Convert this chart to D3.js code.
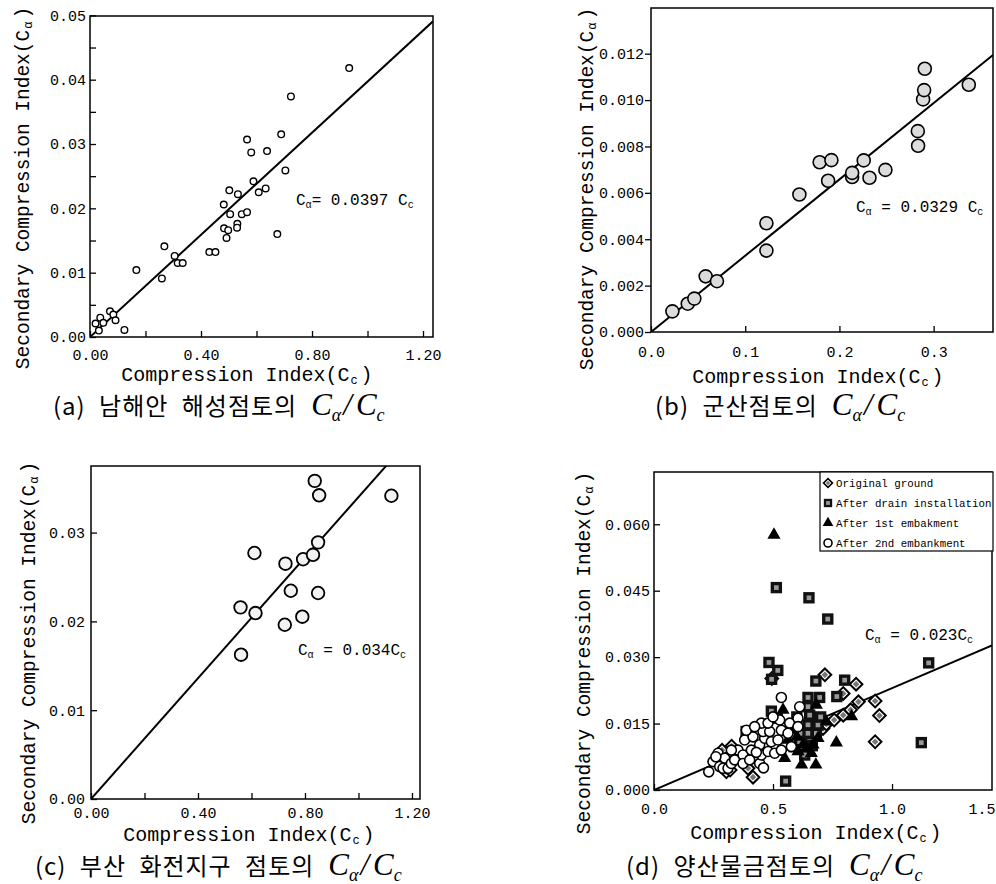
<!DOCTYPE html>
<html>
<head>
<meta charset="utf-8">
<script src="https://cdn.jsdelivr.net/npm/d3@7"></script>
<style>
body { margin: 0; background: #fff; }
text { font-family: "Liberation Mono", "DejaVu Sans Mono", monospace; fill: #000; }
.cap { font-family: "Noto Sans CJK KR", sans-serif; font-size: 24px; letter-spacing: 1px; word-spacing: 7px; }
.math { font-family: "Liberation Serif", serif; font-style: italic; }
</style>
</head>
<body>
<svg id="fig" width="996" height="884"></svg>
<script>
// (a) 남해안 해성점토
var aCc = [0.934, 0.724, 0.566, 0.581, 0.638, 0.689, 0.704, 0.589, 0.608, 0.633, 0.502, 0.533, 0.482,
           0.505, 0.547, 0.566, 0.483, 0.498, 0.492, 0.531, 0.530, 0.675, 0.430, 0.452, 0.268, 0.259,
           0.167, 0.305, 0.316, 0.334, 0.072, 0.084, 0.092, 0.037, 0.020, 0.048, 0.032, 0.124];
var aCa = [0.0418, 0.0374, 0.0307, 0.0287, 0.0289, 0.0315, 0.0259, 0.0242, 0.0225, 0.0231, 0.0228, 0.0222, 0.0206,
           0.0191, 0.0191, 0.0194, 0.0169, 0.0166, 0.0154, 0.0176, 0.0170, 0.0160, 0.0132, 0.0132, 0.0141, 0.0091,
           0.0104, 0.0126, 0.0115, 0.0115, 0.0040, 0.0035, 0.0026, 0.0030, 0.0021, 0.0022, 0.0010, 0.0011];
var aSlope = 0.0397;
var aXTicks = [0, 0.2, 0.4, 0.6, 0.8, 1.0, 1.2];
var aXLabels = ["0.00", "", "0.40", "", "0.80", "", "1.20"];
var aYTicks = [0, 0.005, 0.01, 0.015, 0.02, 0.025, 0.03, 0.035, 0.04, 0.045, 0.05];
var aYLabels = ["0.00", "", "0.01", "", "0.02", "", "0.03", "", "0.04", "", "0.05"];

// (b) 군산점토
var bCc = [0.0227, 0.039, 0.046, 0.058, 0.070, 0.1225, 0.1225, 0.1575, 0.179, 0.1915, 0.188,
           0.2135, 0.2135, 0.2258, 0.2319, 0.2488, 0.2832, 0.2835, 0.2888, 0.2899, 0.2906, 0.3373];
var bCa = [0.00089, 0.00122, 0.00144, 0.0024, 0.00219, 0.00469, 0.00351, 0.00593, 0.00732, 0.00741, 0.00652,
           0.00668, 0.00686, 0.0074, 0.00665, 0.00699, 0.00866, 0.00803, 0.01003, 0.01043, 0.01135, 0.01066];
var bSlope = 0.0329;
var bXTicks = [0, 0.1, 0.2, 0.3];
var bXLabels = ["0.0", "0.1", "0.2", "0.3"];
var bYTicks = [0, 0.002, 0.004, 0.006, 0.008, 0.010, 0.012];
var bYLabels = ["0.000", "0.002", "0.004", "0.006", "0.008", "0.010", "0.012"];

// (c) 부산 화전지구 점토
var cCc = [0.8365, 0.853, 1.123, 0.849, 0.611, 0.793, 0.830, 0.727, 0.747, 0.849, 0.559, 0.615, 0.790, 0.7245, 0.561];
var cCa = [0.03583, 0.0342, 0.03415, 0.0289, 0.0277, 0.0270, 0.0275, 0.0265, 0.02345, 0.0232, 0.02158, 0.02094, 0.02053, 0.01962, 0.01625];
var cSlope = 0.034;
var cXTicks = [0, 0.2, 0.4, 0.6, 0.8, 1.0, 1.2];
var cXLabels = ["0.00", "", "0.40", "", "0.80", "", "1.20"];
var cYTicks = [0, 0.01, 0.02, 0.03];
var cYLabels = ["0.00", "0.01", "0.02", "0.03"];

// (d) 양산물금점토
var dOrigCc = [0.286, 0.326, 0.304, 0.395, 0.416, 0.682, 0.710, 0.724, 0.757, 0.795, 0.826, 0.859, 0.929,
               0.947, 0.929, 0.795, 0.849, 0.718, 0.495, 0.640, 0.660, 0.320];
var dOrigCa = [0.0090, 0.0099, 0.0041, 0.0049, 0.0029, 0.0151, 0.0139, 0.0149, 0.0158, 0.0169, 0.0181, 0.0199, 0.0201,
               0.0168, 0.0109, 0.0218, 0.0239, 0.0260, 0.0252, 0.0120, 0.0135, 0.0045];
var dDrainCc = [0.514, 0.651, 0.730, 1.154, 0.483, 0.520, 0.494, 0.680, 0.801, 0.768, 0.696, 0.647, 0.647, 0.654,
                0.493, 0.518, 0.387, 0.619, 0.647, 0.647, 0.654, 0.682, 0.647, 0.633, 0.689, 0.612, 1.123, 0.553,
                0.600, 0.700, 0.665];
var dDrainCa = [0.0457, 0.0434, 0.0386, 0.0287, 0.0288, 0.0270, 0.0250, 0.0246, 0.0248, 0.0211, 0.0209, 0.0209, 0.0188, 0.0169,
                0.0178, 0.0162, 0.0132, 0.0128, 0.0147, 0.0128, 0.0109, 0.0128, 0.0098, 0.0079, 0.0147, 0.0109, 0.0107, 0.0020,
                0.0165, 0.0165, 0.0100];
var d1stCc = [0.504, 0.542, 0.549, 0.577, 0.563, 0.591, 0.605, 0.626, 0.668, 0.661, 0.689, 0.682, 0.724, 0.766,
              0.830, 0.620, 0.680, 0.305, 0.600, 0.640];
var d1stCa = [0.0576, 0.0181, 0.0072, 0.0135, 0.0113, 0.0094, 0.0087, 0.0102, 0.0102, 0.0083, 0.0117, 0.0192, 0.0154, 0.0107,
              0.0166, 0.0057, 0.0057, 0.0049, 0.0120, 0.0095];
var d2ndCc = [0.230, 0.248, 0.269, 0.276, 0.290, 0.311, 0.297, 0.325, 0.339, 0.353, 0.374, 0.374, 0.402, 0.409, 0.381,
              0.416, 0.444, 0.451, 0.444, 0.465, 0.458, 0.451, 0.486, 0.493, 0.479, 0.507, 0.521, 0.535, 0.528, 0.563,
              0.570, 0.577, 0.535, 0.612, 0.605, 0.605, 0.535, 0.388, 0.423, 0.479, 0.325, 0.260, 0.430, 0.500, 0.460];
var d2ndCa = [0.0041, 0.0064, 0.0083, 0.0053, 0.0049, 0.0049, 0.0072, 0.0060, 0.0068, 0.0090, 0.0079, 0.0060, 0.0068, 0.0090, 0.0113,
              0.0120, 0.0060, 0.0079, 0.0102, 0.0117, 0.0132, 0.0151, 0.0132, 0.0109, 0.0087, 0.0083, 0.0113, 0.0135, 0.0158, 0.0128,
              0.0151, 0.0098, 0.0090, 0.0188, 0.0162, 0.0143, 0.0209, 0.0135, 0.0143, 0.0151, 0.0090, 0.0075, 0.0085, 0.0165, 0.0050];
var dSlope = 0.023;
var dXTicks = [0, 0.5, 1.0, 1.5];
var dXLabels = ["0.0", "0.5", "1.0", "1.5"];
var dYTicks = [0, 0.015, 0.030, 0.045, 0.060];
var dYLabels = ["0.000", "0.015", "0.030", "0.045", "0.060"];
var dLegend = ["Original ground", "After drain installation", "After 1st embakment", "After 2nd embankment"];

var svg = d3.select("#fig");

// text with small lowered subscripts, parts = [[string, isSub, dx], ...]
function subText(sel, parts, size, subSize) {
  var t = sel.append("text").style("font-size", size + "px");
  var shift = 0;
  parts.forEach(function(p) {
    var ts = t.append("tspan").text(p[0]);
    if (p[2]) ts.attr("dx", p[2]);
    if (p[1]) {
      ts.attr("dy", 3).style("font-size", subSize + "px");
      shift = 3;
    } else if (shift) {
      ts.attr("dy", -shift);
      shift = 0;
    }
  });
  return t;
}

function panel(o) {
  var x = d3.scaleLinear().domain(o.xDom).range([o.left, o.right]);
  var y = d3.scaleLinear().domain(o.yDom).range([o.bottom, o.top]);
  var g = svg.append("g");

  g.append("clipPath").attr("id", "clip" + o.id)
    .append("rect")
    .attr("x", o.left).attr("y", o.top)
    .attr("width", o.right - o.left).attr("height", o.bottom - o.top);

  var xAxis = d3.axisBottom(x)
    .tickValues(o.xTicks)
    .tickFormat(function(d, i) { return o.xLabels[i]; })
    .tickSizeInner(-6).tickSizeOuter(0).tickPadding(o.xPad);
  var gx = g.append("g")
    .attr("transform", "translate(0," + o.bottom + ")")
    .call(xAxis);
  gx.select(".domain").remove();
  gx.selectAll("text").style("font-size", "15px").style("font-family", null);
  gx.selectAll(".tick").filter(function(d) { return x(d) > o.right + 1; }).select("line").remove();

  var yAxis = d3.axisLeft(y)
    .tickValues(o.yTicks)
    .tickFormat(function(d, i) { return o.yLabels[i]; })
    .tickSizeInner(o.yTickIn ? -6 : 6).tickSizeOuter(0).tickPadding(o.yPad);
  var gy = g.append("g")
    .attr("transform", "translate(" + o.left + ",0)")
    .call(yAxis);
  gy.select(".domain").remove();
  gy.selectAll("text").style("font-size", "15px").style("font-family", null);
  g.selectAll(".tick line").attr("stroke", "#000").attr("stroke-width", 1.3);

  // regression line
  var xEnd = o.xDom[1];
  g.append("line")
    .attr("clip-path", "url(#clip" + o.id + ")")
    .attr("x1", x(0)).attr("y1", y(0))
    .attr("x2", x(xEnd)).attr("y2", y(o.slope * xEnd))
    .attr("stroke", "#000").attr("stroke-width", 2);

  g.append("rect")
    .attr("x", o.left).attr("y", o.top)
    .attr("width", o.right - o.left).attr("height", o.bottom - o.top)
    .attr("fill", "none").attr("stroke", "#000").attr("stroke-width", 1.5);

  // axis titles
  var xt = subText(g, [["Compression Index(C"], ["c", true, 1], [")", false, 3]], 20, 12);
  xt.attr("x", o.xTitle[0]).attr("y", o.xTitle[1]).attr("text-anchor", "middle");
  var yt = subText(g, [["Secondary Compression Index(C"], ["\u03b1", true, 1], [")", false, 3]], 19.5, 12);
  yt.attr("text-anchor", "middle")
    .attr("transform", "translate(" + o.yTitle[0] + "," + o.yTitle[1] + ") rotate(-90)");

  // equation
  var eq = subText(g, [["C"], ["\u03b1", true], [o.eq], ["c", true]], 16, 10);
  eq.attr("x", o.eqPos[0]).attr("y", o.eqPos[1]);

  // caption
  var cap = g.append("text").attr("x", o.cap[0]).attr("y", o.cap[1]);
  cap.append("tspan").attr("class", "cap").text(o.capText);
  cap.append("tspan").attr("class", "math").attr("dx", 14).style("font-size", "31px").text("C");
  cap.append("tspan").attr("class", "math").attr("dy", 6).style("font-size", "18px").text("\u03b1");
  cap.append("tspan").attr("class", "math").attr("dy", -6).attr("dx", 2).style("font-size", "31px").text("/");
  cap.append("tspan").attr("class", "math").attr("dx", 4).style("font-size", "31px").text("C");
  cap.append("tspan").attr("class", "math").attr("dy", 6).style("font-size", "18px").text("c");

  return { g: g, x: x, y: y };
}

function circles(p, cc, ca, r, fill, sw) {
  p.g.append("g").selectAll("circle")
    .data(cc)
    .enter()
    .append("circle")
    .attr("cx", function(d) { return p.x(d); })
    .attr("cy", function(d, i) { return p.y(ca[i]); })
    .attr("r", r)
    .attr("fill", fill)
    .attr("stroke", "#000")
    .attr("stroke-width", sw);
}

// (a)
var pa = panel({
  id: "a", left: 90, right: 433, top: 16, bottom: 337,
  xDom: [0, 1.236], yDom: [0, 0.0499],
  xTicks: aXTicks, xLabels: aXLabels, yTicks: aYTicks, yLabels: aYLabels,
  xPad: 12, yPad: 4, yTickIn: true, slope: aSlope,
  xTitle: [247, 381], yTitle: [29, 188],
  eq: "= 0.0397 C", eqPos: [296, 205],
  cap: [53, 415], capText: "(a) 남해안 해성점토의"
});
circles(pa, aCc, aCa, 3.3, "#fff", 1.4);

// (b)
var pb = panel({
  id: "b", left: 651, right: 993, top: 8, bottom: 332,
  xDom: [0, 0.363], yDom: [0, 0.01397],
  xTicks: bXTicks, xLabels: bXLabels, yTicks: bYTicks, yLabels: bYLabels,
  xPad: 14, yPad: 1, yTickIn: false, slope: bSlope,
  xTitle: [818, 383], yTitle: [593, 189],
  eq: " = 0.0329 C", eqPos: [856, 212],
  cap: [655, 415], capText: "(b) 군산점토의"
});
circles(pb, bCc, bCa, 6.5, "#dcdcdc", 1.6);

// (c)
var pc = panel({
  id: "c", left: 91, right: 420, top: 466, bottom: 799,
  xDom: [0, 1.23], yDom: [0, 0.0375],
  xTicks: cXTicks, xLabels: cXLabels, yTicks: cYTicks, yLabels: cYLabels,
  xPad: 8, yPad: 6, yTickIn: true, slope: cSlope,
  xTitle: [249, 841], yTitle: [35, 643],
  eq: " = 0.034C", eqPos: [298, 655],
  cap: [35, 875], capText: "(c) 부산 화전지구 점토의"
});
circles(pc, cCc, cCa, 6.3, "#f2f2f2", 1.8);

// (d)
var pd = panel({
  id: "d", left: 654, right: 992, top: 472, bottom: 790,
  xDom: [0, 1.42], yDom: [0, 0.0718],
  xTicks: dXTicks, xLabels: dXLabels, yTicks: dYTicks, yLabels: dYLabels,
  xPad: 13, yPad: 4, yTickIn: true, slope: dSlope,
  xTitle: [816, 839], yTitle: [590, 653],
  eq: " = 0.023C", eqPos: [865, 640],
  cap: [626, 875], capText: "(d) 양산물금점토의"
});
// last label (1.5) falls off the cropped right edge; pull it in
pd.g.selectAll(".tick text").filter(function(d) { return d === 1.5; })
  .attr("x", 995 - pd.x(1.5)).attr("text-anchor", "end");

var diamond = d3.symbol().type(d3.symbolSquare).size(80);
var diamondIn = d3.symbol().type(d3.symbolSquare).size(22);
var square = d3.symbol().type(d3.symbolSquare).size(130);
var squareIn = d3.symbol().type(d3.symbolSquare).size(22);
var tri = d3.symbol().type(d3.symbolTriangle).size(75);

function marks(cc, ca, draw) {
  var sel = pd.g.append("g").selectAll("g")
    .data(cc)
    .enter()
    .append("g")
    .attr("transform", function(d, i) { return "translate(" + pd.x(d) + "," + pd.y(ca[i]) + ")"; });
  draw(sel);
}

marks(dOrigCc, dOrigCa, function(s) {
  s.append("path").attr("d", diamond).attr("transform", "rotate(45)")
    .attr("fill", "#fff").attr("stroke", "#000").attr("stroke-width", 2);
  s.append("path").attr("d", diamondIn).attr("transform", "rotate(45)").attr("fill", "#777");
});
marks(dDrainCc, dDrainCa, function(s) {
  s.append("path").attr("d", square).attr("fill", "#111");
  s.append("path").attr("d", squareIn).attr("fill", "#999");
});
marks(d1stCc, d1stCa, function(s) {
  s.append("path").attr("d", tri).attr("fill", "#000");
});
marks(d2ndCc, d2ndCa, function(s) {
  s.append("circle").attr("r", 5).attr("fill", "#fff").attr("stroke", "#000").attr("stroke-width", 1.6);
});

// legend
var lg = pd.g.append("g");
lg.append("rect")
  .attr("x", 820).attr("y", 472).attr("width", 173).attr("height", 79)
  .attr("fill", "#fff").attr("stroke", "#000").attr("stroke-width", 1.2);
var legY = [483, 503, 523, 543];
var ly = d3.scalePoint().domain(dLegend).range([legY[0], legY[3]]);
lg.selectAll("text.leg")
  .data(dLegend)
  .enter()
  .append("text")
  .attr("class", "leg")
  .attr("x", 836)
  .attr("y", function(d) { return ly(d) + 4; })
  .style("font-size", "10.8px")
  .text(function(d) { return d; });
var l0 = lg.append("g").attr("transform", "translate(828," + ly(dLegend[0]) + ")");
l0.append("path").attr("d", d3.symbol().type(d3.symbolSquare).size(40)).attr("transform", "rotate(45)")
  .attr("fill", "#fff").attr("stroke", "#000").attr("stroke-width", 1.6);
l0.append("path").attr("d", d3.symbol().type(d3.symbolSquare).size(10)).attr("transform", "rotate(45)").attr("fill", "#777");
var l1 = lg.append("g").attr("transform", "translate(828," + ly(dLegend[1]) + ")");
l1.append("path").attr("d", d3.symbol().type(d3.symbolSquare).size(70)).attr("fill", "#111");
l1.append("path").attr("d", d3.symbol().type(d3.symbolSquare).size(14)).attr("fill", "#999");
lg.append("path").attr("transform", "translate(828," + ly(dLegend[2]) + ")")
  .attr("d", d3.symbol().type(d3.symbolTriangle).size(50)).attr("fill", "#000");
lg.append("circle").attr("cx", 828).attr("cy", ly(dLegend[3])).attr("r", 4)
  .attr("fill", "#fff").attr("stroke", "#000").attr("stroke-width", 1.6);
</script>
</body>
</html>
